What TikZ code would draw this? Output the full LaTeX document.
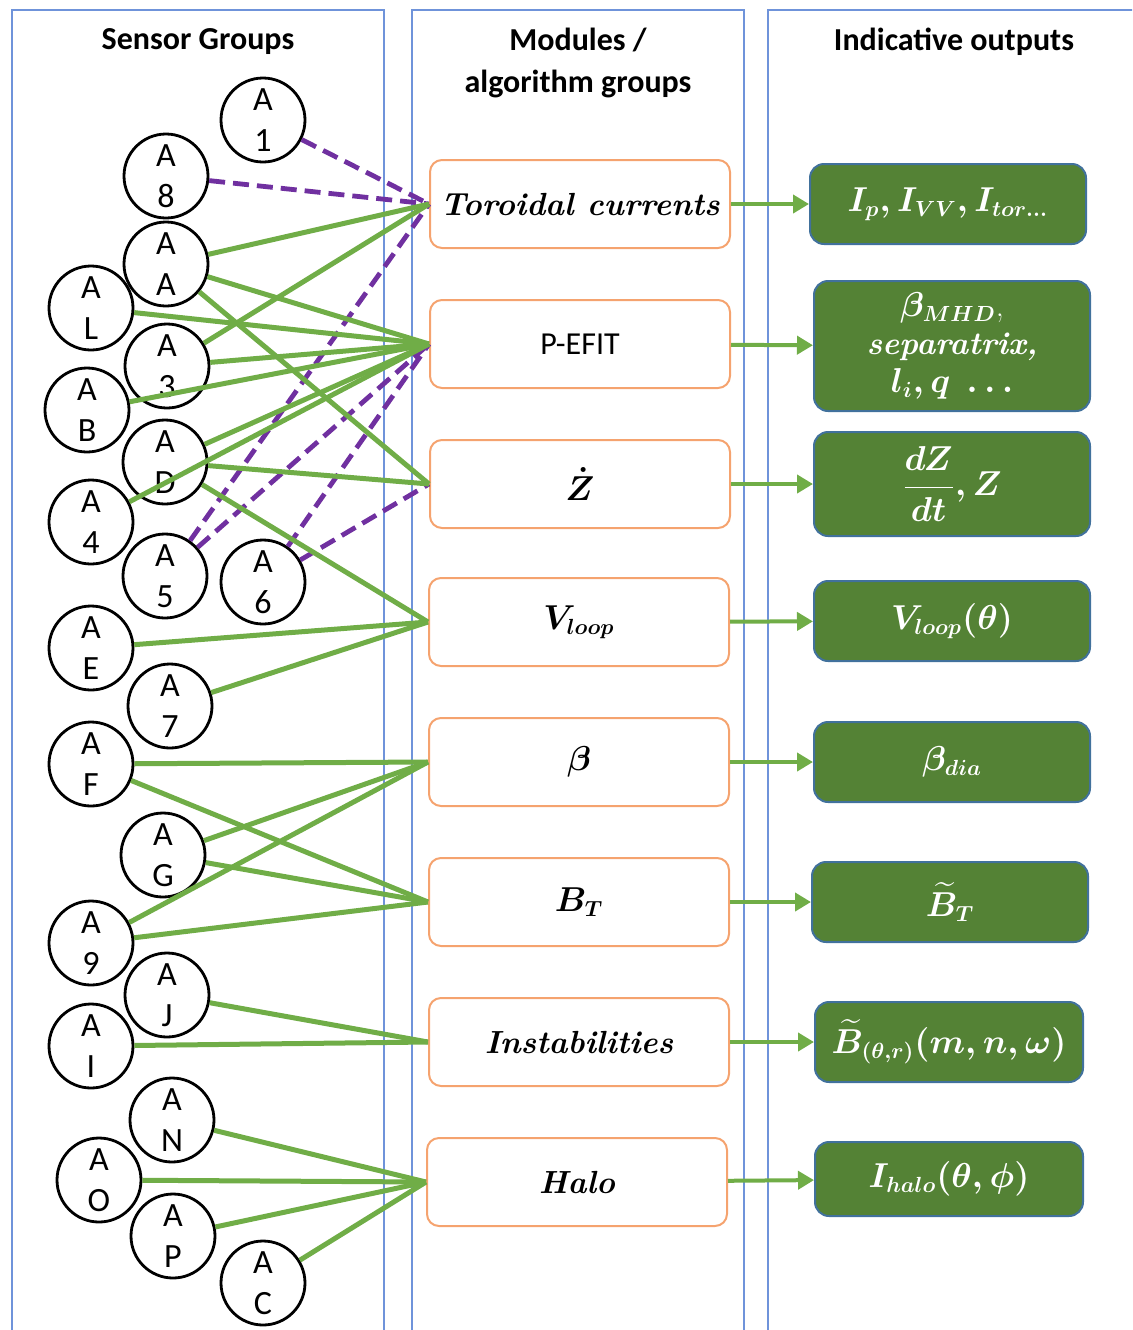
\documentclass[tikz,border=0pt]{standalone}
\usepackage{amsmath}
\usepackage{fontspec}
\newfontfamily\calibri{Carlito}
\usetikzlibrary{arrows.meta}
\definecolor{colblue}{HTML}{6F93DA}
\definecolor{modorange}{HTML}{F5A36F}
\definecolor{outgreen}{HTML}{548235}
\definecolor{outblue}{HTML}{41719C}
\definecolor{lgreen}{HTML}{70AD47}
\definecolor{lpurple}{HTML}{7030A0}
\begin{document}
\begin{tikzpicture}[x=0.5pt,y=-0.5pt,
    column/.style={draw=colblue,line width=1pt},
    title/.style={align=center,font=\calibri\bfseries\fontsize{16}{21}\selectfont},
    sensor/.style={draw,circle,fill=white,line width=1.4pt,minimum size=42pt,inner sep=0pt,
      align=center,font=\calibri\fontsize{17}{20.5}\selectfont},
    module/.style={draw=modorange,rounded corners=6pt,line width=1pt,minimum width=150pt,
      minimum height=44pt,font=\boldmath\fontsize{16}{19}\selectfont},
    output/.style={draw=outblue,fill=outgreen,text=white,rounded corners=7pt,line width=1pt,
      minimum width=138pt,minimum height=40pt,align=center,font=\boldmath\fontsize{16}{19}\selectfont},
    link/.style={draw=lgreen,line width=2.5pt},
    weak/.style={draw=lpurple,line width=2.4pt,dash pattern=on 8pt off 4pt},
    feed/.style={draw=lgreen,line width=2pt,-{Triangle[length=8pt,width=9pt]}}]
  \useasboundingbox (0,0) rectangle (1132,1330);
  \clip (0,0) rectangle (1132,1330);
  % columns
  \draw[column] (12,1340) -- (12,10) -- (384,10) -- (384,1340);
  \draw[column] (412,1340) -- (412,10) -- (744,10) -- (744,1340);
  \draw[column] (768,1340) -- (768,10) -- (1145,10);
  \node[title] (tsens) at (198,42) {Sensor Groups};
  \node[title] (tmod) at (578,63) {Modules /\\algorithm groups};
  \node[title] (tout) at (954,42) {Indicative outputs};
  % sensor groups
  \node[sensor] (a1) at (263,120) {A\\1};
  \node[sensor] (a8) at (166,176) {A\\8};
  \node[sensor] (aa) at (166,264) {A\\A};
  \node[sensor] (al) at (91,308) {A\\L};
  \node[sensor] (a3) at (167,366) {A\\3};
  \node[sensor] (ab) at (87,410) {A\\B};
  \node[sensor] (ad) at (165,462) {A\\D};
  \node[sensor] (a4) at (91,522) {A\\4};
  \node[sensor] (a5) at (165,576) {A\\5};
  \node[sensor] (a6) at (263,582) {A\\6};
  \node[sensor] (ae) at (91,648) {A\\E};
  \node[sensor] (a7) at (170,706) {A\\7};
  \node[sensor] (af) at (91,764) {A\\F};
  \node[sensor] (ag) at (163,855) {A\\G};
  \node[sensor] (a9) at (91,943) {A\\9};
  \node[sensor] (aj) at (167,995) {A\\J};
  \node[sensor] (ai) at (91,1046) {A\\I};
  \node[sensor] (an) at (172,1120) {A\\N};
  \node[sensor] (ao) at (99,1180) {A\\O};
  \node[sensor] (ap) at (173,1236) {A\\P};
  \node[sensor] (ac) at (263,1283) {A\\C};
  % modules
  \node[module] (tor) at (580,204) {\textbf{\textit{Toroidal currents}}};
  \node[module] (efit) at (580,344) {\calibri P-EFIT};
  \node[module] (zdot) at (580,484) {$\dot{Z}$};
  \node[module] (vloop) at (579,622) {$V_{loop}$};
  \node[module] (beta) at (579,762) {$\beta$};
  \node[module] (bt) at (579,902) {$B_T$};
  \node[module] (inst) at (579,1042) {\textbf{\textit{Instabilities}}};
  \node[module] (halo) at (577,1182) {\textbf{\textit{Halo}}};
  % outputs
  \node[output] (otor) at (948,204) {$I_p, I_{VV}, I_{tor\ldots}$};
  \node[output,minimum height=65pt] (oefit) at (952,346)
    {$\beta_{MHD}$,\\\textbf{\textit{separatrix,}}\\$l_i, q\ \ldots$};
  \node[output,minimum height=52pt] (ozdot) at (952,484) {$\dfrac{dZ}{dt},Z$};
  \node[output] (ovloop) at (952,621) {$V_{loop}(\theta)$};
  \node[output] (obeta) at (952,762) {$\beta_{dia}$};
  \node[output] (obt) at (950,902) {$\widetilde{B}_T$};
  \node[output,minimum width=134pt] (oinst) at (949,1042) {$\widetilde{B}_{(\theta,r)}(m,n,\omega)$};
  \node[output,minimum width=134pt,minimum height=37pt] (ohalo) at (949,1179) {$I_{halo}(\theta,\phi)$};
  % links
  \begin{scope}[weak]
    \draw (a1) to (tor.west);
    \draw (a8) to (tor.west);
    \draw (a5) to (tor.west);
    \draw (a5) to (efit.west);
    \draw (a6) to (efit.west);
    \draw (a6) to (zdot.west);
  \end{scope}
  \begin{scope}[link]
    \draw (aa) to (tor.west);
    \draw (aa) to (efit.west);
    \draw (aa) to (zdot.west);
    \draw (al) to (efit.west);
    \draw (a3) to (tor.west);
    \draw (a3) to (efit.west);
    \draw (ab) to (efit.west);
    \draw (ad) to (efit.west);
    \draw (ad) to (zdot.west);
    \draw (ad) to (vloop.west);
    \draw (a4) to (efit.west);
    \draw (ae) to (vloop.west);
    \draw (a7) to (vloop.west);
    \draw (af) to (beta.west);
    \draw (af) to (bt.west);
    \draw (ag) to (beta.west);
    \draw (ag) to (bt.west);
    \draw (a9) to (beta.west);
    \draw (a9) to (bt.west);
    \draw (aj) to (inst.west);
    \draw (ai) to (inst.west);
    \draw (an) to (halo.west);
    \draw (ao) to (halo.west);
    \draw (ap) to (halo.west);
    \draw (ac) to (halo.west);
  \end{scope}
  \begin{scope}[feed]
    \draw (tor) to (otor);
    \draw (efit) to (oefit);
    \draw (zdot) to (ozdot);
    \draw (vloop) to (ovloop);
    \draw (beta) to (obeta);
    \draw (bt) to (obt);
    \draw (inst) to (oinst);
    \draw (halo) to (ohalo);
  \end{scope}
\end{tikzpicture}
\end{document}
